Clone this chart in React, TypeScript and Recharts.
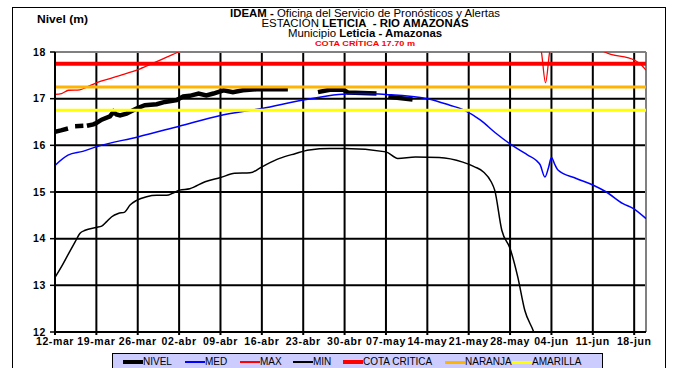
import { LineChart, Line, XAxis, YAxis, CartesianGrid, ReferenceLine } from 'recharts';

type Pt = [number, number | null];

// day 0 = 12-mar
const xLabels = [
  '12-mar', '19-mar', '26-mar', '02-abr', '09-abr', '16-abr', '23-abr', '30-abr',
  '07-may', '14-may', '21-may', '28-may', '04-jun', '11-jun', '18-jun',
];
const xTicks = xLabels.map((_, i) => i * 7);
const yTicks = [12, 13, 14, 15, 16, 17, 18];

const nivel: Pt[] = [
  [0, 16.29], [1, 16.32], [2.2, 16.36], [2.8, null],
  [3.4, 16.41], [4.8, 16.42], [5.1, null],
  [5.4, 16.42], [6.5, 16.45], [7, 16.48], [7.9, 16.55], [9.3, 16.62], [9.9, 16.72],
  [10.4, 16.66], [11, 16.64], [12.1, 16.68], [13.8, 16.79], [15.2, 16.86], [17.2, 16.88],
  [18.6, 16.93], [20.6, 16.97], [21.7, 17.05], [22.8, 17.06], [24.3, 17.11], [25.6, 17.07],
  [26.8, 17.11], [28.5, 17.18], [30.1, 17.14], [31.8, 17.18], [34.1, 17.2], [39.4, 17.2],
  [40, null],
  [44.5, 17.14], [46.5, 17.19], [48.8, 17.19], [49.6, 17.13], [54.4, 17.11],
  [55, null],
  [56.4, 17.04], [60.5, 16.98],
];

const med: Pt[] = [
  [0, 15.57], [2.2, 15.79], [4.7, 15.87], [7, 15.97], [14, 16.18], [21, 16.41], [28, 16.64],
  [35, 16.79], [42, 16.97], [48, 17.09], [52, 17.11], [56, 17.09], [63, 17.0], [66.8, 16.86],
  [69.3, 16.75], [72, 16.54], [74.5, 16.27], [77, 16.03], [80, 15.79], [81.4, 15.68],
  [82.1, 15.58], [82.9, 15.32], [83.5, 15.52], [84, 15.74], [84.6, 15.58], [85.1, 15.47],
  [88.2, 15.29], [91, 15.15], [93.3, 15.0], [96.1, 14.75], [97.8, 14.65], [100, 14.43],
];

const max: Pt[] = [
  [0, 17.09], [1.1, 17.11], [2.3, 17.18], [4.2, 17.19], [5.4, 17.25], [7, 17.34], [9.3, 17.43],
  [12.1, 17.54], [14.4, 17.64], [16.6, 17.76], [18.9, 17.89], [20.9, 18.0], [24, 18.2],
  [35, 18.6], [50, 18.8], [65, 18.7], [75, 18.5], [81.5, 18.3], [82.3, 18.0], [83, 17.34],
  [83.7, 18.0], [84.5, 18.3], [90, 18.3], [93, 18.0], [98.1, 17.82], [99, 17.75], [100, 17.61],
];

const min: Pt[] = [
  [0, 13.17], [1.1, 13.4], [2.3, 13.68], [3.4, 13.93], [4.2, 14.11], [5.1, 14.18], [7, 14.24],
  [7.9, 14.27], [8.7, 14.36], [9.6, 14.47], [10.7, 14.54], [11.8, 14.57], [12.7, 14.72],
  [13.8, 14.82], [15.5, 14.9], [17.2, 14.93], [18.9, 14.93], [20, 14.98], [21.1, 15.04],
  [22.8, 15.07], [25.4, 15.22], [28, 15.31], [30.4, 15.4], [33, 15.41], [35, 15.54],
  [38, 15.72], [40.6, 15.82], [43, 15.9], [46.5, 15.93], [49, 15.93], [56, 15.86], [58, 15.72],
  [61, 15.75], [65, 15.74], [69, 15.64], [71, 15.54], [72.5, 15.43], [73.8, 15.22],
  [74.4, 15.04], [75.6, 14.18], [77, 13.79], [78.3, 13.18], [79.5, 12.46], [81, 12.0], [81.5, 11.8],
];

const COTA_CRITICA = 17.75;
const NARANJA = 17.25;
const AMARILLA = 16.75;

const toRows = (pts: Pt[]) => pts.map(([d, v]) => ({ d, v }));

const FONT = '"Liberation Sans", Arial, sans-serif';

const legend = [
  { name: 'NIVEL', color: '#000000', w: 4, left: 123 },
  { name: 'MED', color: '#0000ff', w: 1.5, left: 185 },
  { name: 'MAX', color: '#ff0000', w: 1.5, left: 240 },
  { name: 'MIN', color: '#000000', w: 1.5, left: 293 },
  { name: 'COTA CRITICA', color: '#ff0000', w: 4, left: 343 },
  { name: 'NARANJA', color: '#ffb400', w: 3, left: 445 },
  { name: 'AMARILLA', color: '#ffff00', w: 3, left: 512 },
];

const tickStyle = { fill: '#000', fontSize: 10.5, fontWeight: 'bold', fontFamily: FONT, letterSpacing: 0.6 };

const row = (top: number, extra: object = {}) => ({
  position: 'absolute' as const, left: 165, width: 400, top, textAlign: 'center' as const,
  fontSize: 10, lineHeight: '10px', transform: 'scaleX(1.14)', transformOrigin: '200px 0', ...extra,
});

export default function App() {
  return (
    <div style={{ position: 'absolute', left: 0, top: 0, width: 673, height: 368, overflow: 'hidden', background: '#fff', fontFamily: FONT, color: '#000' }}>
      <div style={{ position: 'absolute', left: 12, top: 7, width: 652, height: 400, border: '1px solid #000' }} />

      <div style={row(9)}><b>IDEAM -</b> Oficina del Servicio de Pronósticos y Alertas</div>
      <div style={row(19)}>ESTACIÓN <b>LETICIA&nbsp; - RIO AMAZONAS</b></div>
      <div style={row(29)}>Municipio <b>Leticia - Amazonas</b></div>
      <div style={row(39, { color: '#ff0000', fontWeight: 'bold', fontSize: 8 })}>COTA CRÍTICA 17.70 m</div>
      <div style={{ position: 'absolute', left: 37, top: 13, fontSize: 10.5, fontWeight: 'bold', transform: 'scaleX(1.15)', transformOrigin: '0 0' }}>Nivel (m)</div>

      <div style={{ position: 'absolute', left: 0, top: 0 }}>
        <LineChart width={673} height={368} margin={{ top: 52, right: 27, bottom: 0, left: 0 }}>
          <CartesianGrid stroke="#000" strokeWidth={2} />
          <XAxis
            type="number" dataKey="d" domain={[0, 100]} ticks={xTicks} allowDataOverflow interval={0}
            height={36} tickSize={3} tickMargin={3}
            tickFormatter={(v: number) => xLabels[Math.round(v / 7)]}
            axisLine={{ stroke: '#000', strokeWidth: 2 }} tickLine={{ stroke: '#000', strokeWidth: 2 }}
            tick={tickStyle}
          />
          <YAxis
            type="number" domain={[12, 18]} ticks={yTicks} allowDataOverflow interval={0}
            width={55} tickSize={5} tickMargin={4}
            axisLine={{ stroke: '#000', strokeWidth: 2 }} tickLine={{ stroke: '#000', strokeWidth: 1.5 }}
            tick={tickStyle}
          />
          <ReferenceLine y={18} stroke="#808080" strokeWidth={2} />
          <ReferenceLine x={100} stroke="#808080" strokeWidth={2} />
          <Line data={toRows(nivel)} dataKey="v" type="linear" stroke="#000" strokeWidth={4.5} dot={false} isAnimationActive={false} />
          <Line data={toRows(med)} dataKey="v" type="monotone" stroke="#0000ff" strokeWidth={1.5} dot={false} isAnimationActive={false} />
          <Line data={toRows(max)} dataKey="v" type="monotone" stroke="#ff0000" strokeWidth={1.3} dot={false} isAnimationActive={false} />
          <Line data={toRows(min)} dataKey="v" type="monotone" stroke="#000" strokeWidth={1.5} dot={false} isAnimationActive={false} />
          <ReferenceLine y={COTA_CRITICA} stroke="#ff0000" strokeWidth={4} />
          <ReferenceLine y={NARANJA} stroke="#ffb400" strokeWidth={3} />
          <ReferenceLine y={AMARILLA} stroke="#ffff00" strokeWidth={3} />
        </LineChart>
      </div>

      <div style={{ position: 'absolute', left: 112, top: 353, width: 489, height: 30, background: '#ccccff', border: '1px solid #000' }}>
        {legend.map((it) => (
          <div key={it.name} style={{ position: 'absolute', left: it.left - 113, top: 2, display: 'flex', alignItems: 'center', fontSize: 10, lineHeight: '12px' }}>
            <span style={{ display: 'inline-block', width: 20, height: it.w, background: it.color }} />
            <span>{it.name}</span>
          </div>
        ))}
      </div>
    </div>
  );
}
